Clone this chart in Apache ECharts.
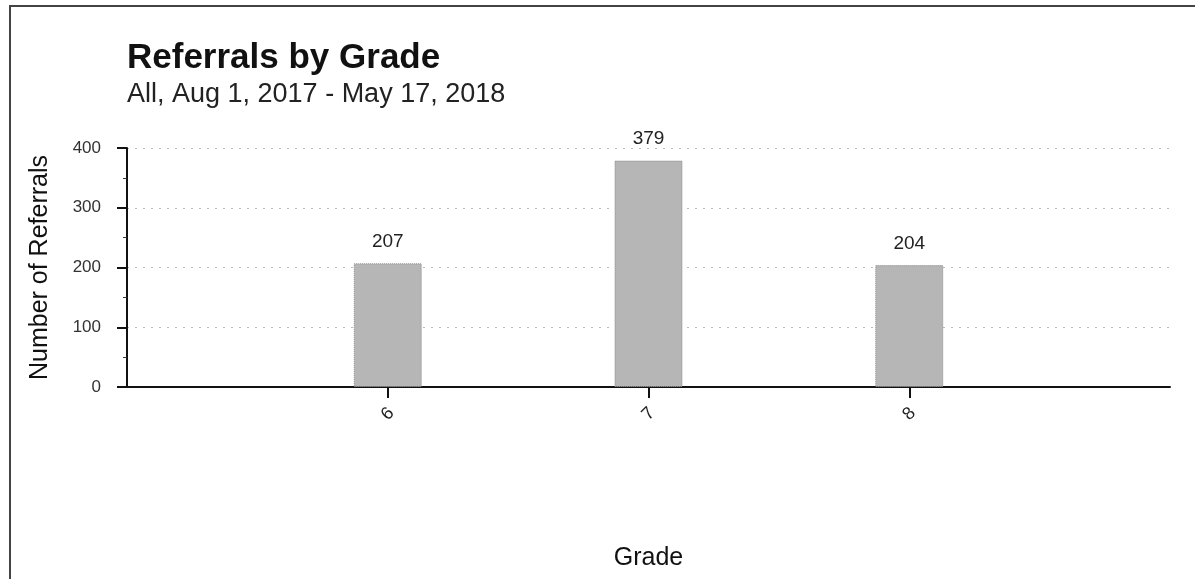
<!DOCTYPE html>
<html>
<head>
<meta charset="utf-8">
<script src="https://cdn.jsdelivr.net/npm/echarts@6/dist/echarts.min.js"></script>
<style>
  html, body { margin: 0; padding: 0; background: #fff; }
  #chart { width: 1195px; height: 579px; }
</style>
</head>
<body>
<div id="chart"></div>
<script>
  // 数据
  const grades = ['6', '7', '8'];
  const referrals = [207, 379, 204];
  const yTicks = [0, 100, 200, 300, 400];

  const chart = echarts.init(document.getElementById('chart'));

  // 两端留半格空白
  const cats = [''].concat(grades, ['']);
  const vals = [null].concat(referrals, [null]);

  const option = {
    animation: false,
    textStyle: { fontFamily: '"Liberation Sans", Arial, sans-serif' },
    title: {
      text: 'Referrals by Grade',
      subtext: 'All, Aug 1, 2017 - May 17, 2018',
      left: 122,
      top: 36,
      itemGap: 5,
      textStyle: { fontSize: 35, fontWeight: 'bold', color: '#111' },
      subtextStyle: { fontSize: 27, color: '#222' }
    },
    grid: {
      left: 127,
      right: 25,
      top: 148,
      bottom: 192
    },
    xAxis: {
      type: 'category',
      data: cats,
      boundaryGap: false,
      name: 'Grade',
      nameLocation: 'middle',
      nameGap: 159,
      nameTextStyle: { fontSize: 25, color: '#111' },
      axisLine: { lineStyle: { color: '#111', width: 2 } },
      axisTick: {
        length: 11,
        interval: (i, v) => v !== '',
        lineStyle: { color: '#111', width: 2 }
      },
      axisLabel: {
        rotate: 45,
        fontSize: 18,
        color: '#222',
        margin: 27,
        align: 'center',
        verticalAlign: 'middle',
        interval: 0
      },
      splitLine: { show: false }
    },
    yAxis: {
      type: 'value',
      min: yTicks[0],
      max: yTicks[yTicks.length - 1],
      interval: 100,
      name: 'Number of Referrals',
      nameLocation: 'middle',
      nameGap: 74,
      nameTextStyle: { fontSize: 25, color: '#111' },
      axisLine: { show: true, lineStyle: { color: '#111', width: 2 } },
      axisTick: { show: true, length: 10, lineStyle: { color: '#111', width: 2 } },
      minorTick: { show: true, splitNumber: 2, length: 4, lineStyle: { color: '#333' } },
      axisLabel: { fontSize: 17, color: '#333', margin: 26 },
      splitLine: {
        show: true,
        lineStyle: { color: '#bbb', type: [2, 6], width: 1 }
      }
    },
    series: [
      {
        type: 'bar',
        data: vals,
        barWidth: 68,
        itemStyle: {
          color: '#b6b6b6',
          borderColor: '#8a8a8a',
          borderWidth: 1,
          borderType: 'dotted'
        },
        label: {
          show: true,
          position: 'top',
          distance: 12,
          fontSize: 19,
          color: '#222'
        }
      }
    ],
    graphic: [
      {
        type: 'polyline',
        shape: { points: [[10, 579], [10, 6], [1195, 6]] },
        style: { stroke: '#444', lineWidth: 2, fill: null }
      }
    ]
  };

  chart.setOption(option);

  window.addEventListener('resize', function () {
    chart.resize();
  });
</script>
</body>
</html>
